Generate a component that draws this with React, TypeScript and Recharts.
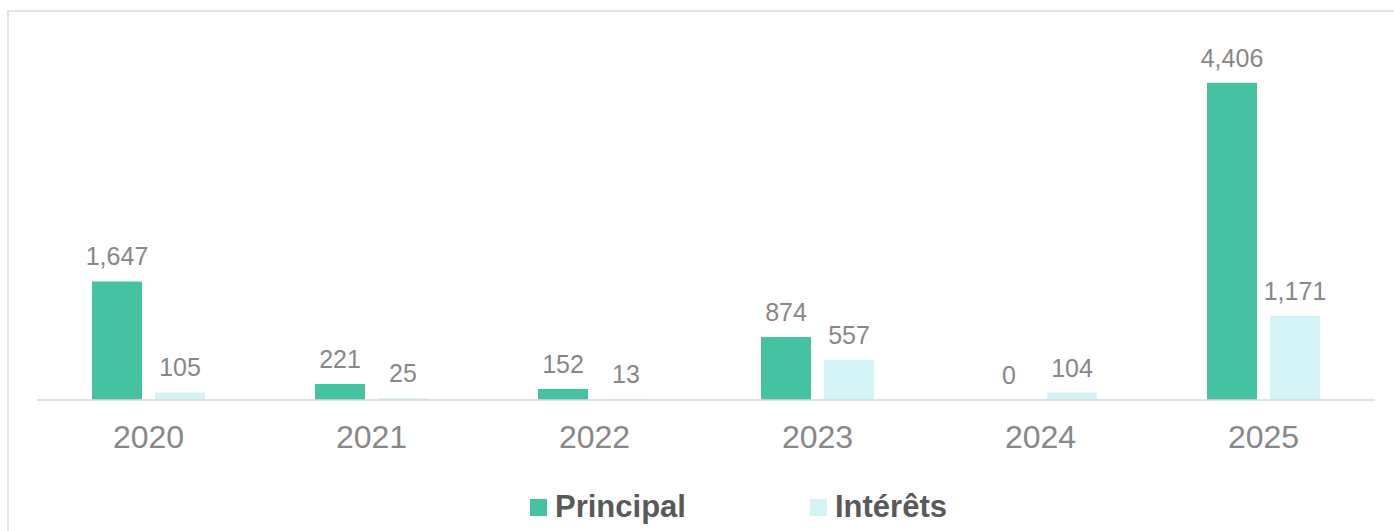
import { Bar, BarChart, LabelList, Legend, XAxis, YAxis } from "recharts";

const years = ["2020", "2021", "2022", "2023", "2024", "2025"];
const principal = [1647, 221, 152, 874, 0, 4406];
const interets = [105, 25, 13, 557, 104, 1171];

const PRINCIPAL_COLOR = "#44C2A2";
const INTERETS_COLOR = "#D4F3F6";
const FONT = "'Liberation Sans', Arial, sans-serif";

const data = years.map((year, i) => ({ year, principal: principal[i], interets: interets[i] }));

const fmt = (v: number) => v.toLocaleString("en-US");

function YearTick({ x, y, payload }: any) {
  return (
    <text x={x} y={y} dy={48} textAnchor="middle" fill="#878787" fontSize={32} fontFamily={FONT}>
      {payload.value}
    </text>
  );
}

// value above the bar, also drawn for zero-height bars
function ValueLabel({ x, y, width, value }: any) {
  if (value == null) return null;
  return (
    <text
      x={Number(x) + Number(width) / 2}
      y={Number(y) - 16}
      textAnchor="middle"
      fill="#878787"
      fontSize={25}
      fontFamily={FONT}
    >
      {fmt(Number(value))}
    </text>
  );
}

function LegendBox() {
  const items = [
    { name: "Principal", color: PRINCIPAL_COLOR, width: 280 },
    { name: "Intérêts", color: INTERETS_COLOR, width: 200 },
  ];
  return (
    <div style={{ display: "flex", alignItems: "center", height: 36, paddingLeft: 521, fontFamily: FONT }}>
      {items.map((it) => (
        <div key={it.name} style={{ display: "flex", alignItems: "center", width: it.width }}>
          <span style={{ width: 17, height: 17, background: it.color, marginRight: 8, display: "inline-block" }} />
          <span style={{ fontSize: 31, fontWeight: 700, color: "#595959" }}>{it.name}</span>
        </div>
      ))}
    </div>
  );
}

export default function App() {
  return (
    <div
      style={{
        position: "absolute",
        left: 7,
        top: 10,
        width: 1396,
        height: 530,
        border: "2px solid #e4e4e4",
        background: "#fff",
      }}
    >
      <BarChart
        width={1396}
        height={525}
        data={data}
        margin={{ top: 28, right: 30, bottom: 12, left: 28 }}
        barCategoryGap={55}
        barGap={13}
      >
        <XAxis
          dataKey="year"
          axisLine={{ stroke: "#d9d9d9", strokeWidth: 1.5 }}
          tickLine={false}
          tickSize={0}
          tickMargin={0}
          height={89}
          tick={<YearTick />}
          interval={0}
        />
        <YAxis hide domain={[0, 5000]} />
        <Legend
          verticalAlign="bottom"
          content={<LegendBox />}
          wrapperStyle={{ left: 0, width: 1396 }}
        />
        <Bar dataKey="principal" fill={PRINCIPAL_COLOR} barSize={50} minPointSize={0.01} isAnimationActive={false}>
          <LabelList dataKey="principal" content={<ValueLabel />} />
        </Bar>
        <Bar dataKey="interets" fill={INTERETS_COLOR} barSize={50} minPointSize={0.01} isAnimationActive={false}>
          <LabelList dataKey="interets" content={<ValueLabel />} />
        </Bar>
      </BarChart>
    </div>
  );
}
